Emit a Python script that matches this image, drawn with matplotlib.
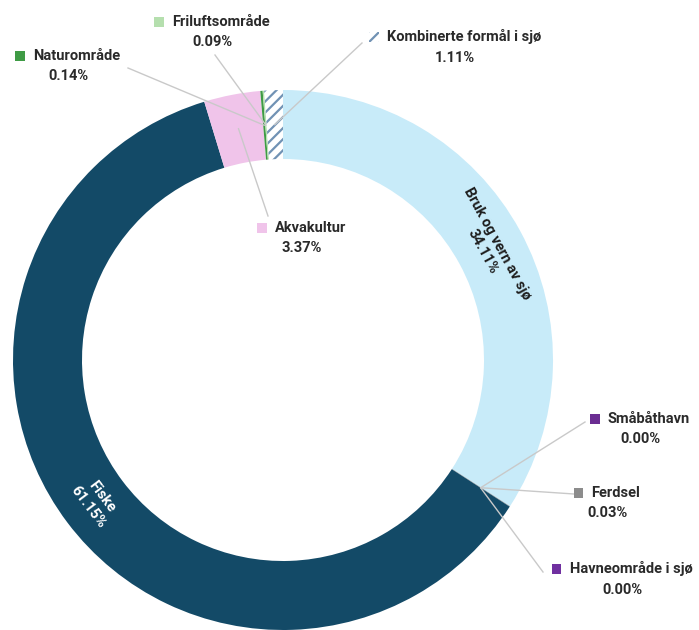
import numpy as np
import matplotlib.pyplot as plt
from matplotlib.patches import Rectangle
from matplotlib.offsetbox import TextArea, DrawingArea, HPacker, VPacker, AnnotationBbox

plt.rcParams['font.family'] = ['Roboto', 'DejaVu Sans']
plt.rcParams['hatch.linewidth'] = 1.6

# data, clockwise from 12 o'clock
categories = ['Bruk og vern av sjø', 'Småbåthavn', 'Ferdsel', 'Havneområde i sjø',
              'Fiske', 'Akvakultur', 'Naturområde', 'Friluftsområde',
              'Kombinerte formål i sjø']
shares = [34.11, 0.00, 0.03, 0.00, 61.15, 3.37, 0.14, 0.09, 1.11]
colors = ['#c8ebf9', '#6b2d92', '#8c8c8c', '#7030a0', '#134a67',
          '#f0c4ea', '#3f9b45', '#b5dfae', 'white']
hatch_color = '#7192b4'

W, H = 699, 630
fig = plt.figure(figsize=(W / 100, H / 100), dpi=100)
ax = fig.add_axes([0, 0, 1, 1])

cx, cy = 283, H - 360
R, ring = 270, 69

wedges, _ = ax.pie(shares, colors=colors, startangle=90, counterclock=False,
                   radius=R, center=(cx, cy),
                   wedgeprops=dict(width=ring, linewidth=0))
wedges[8].set_edgecolor(hatch_color)
wedges[8].set_hatch('///')

def mid_point(w, r):
    a = np.deg2rad((w.theta1 + w.theta2) / 2)
    return cx + r * np.cos(a), cy + r * np.sin(a), np.rad2deg(a)

# labels inside the ring
for i, tc in [(0, '#1e1e1e'), (4, 'white')]:
    x, y, a = mid_point(wedges[i], R - ring / 2)
    rot = (a - 90 + 90) % 180 - 90
    ax.text(x, y, f'{categories[i]}\n{shares[i]:.2f}%', rotation=rot,
            rotation_mode='anchor', ha='center', va='center', ma='center',
            fontsize=10.5, fontweight='bold', color=tc, linespacing=1.2)

# outside labels: block centre and leader end (image pixel coords)
outside = {
    'Naturområde': ((68, 66), (128, 68)),
    'Friluftsområde': ((212, 32), (215, 55)),
    'Kombinerte formål i sjø': ((455, 47), (362, 43)),
    'Akvakultur': ((302, 238), (268, 216)),
    'Småbåthavn': ((640, 429), (585, 422)),
    'Ferdsel': ((607, 503), (574, 494)),
    'Havneområde i sjø': ((622, 579), (543, 572)),
}

for name, (centre, end) in outside.items():
    i = categories.index(name)
    x, y, _ = mid_point(wedges[i], R - ring / 2)
    ax.plot([x, end[0]], [y, H - end[1]], color='#c9c9c9', lw=1, zorder=5)

    da = DrawingArea(8, 8, 0, 0)
    if name == 'Kombinerte formål i sjø':
        sq = Rectangle((0, 0), 7, 7, facecolor='white', edgecolor=hatch_color,
                       hatch='///', linewidth=0)
    else:
        sq = Rectangle((0, 0), 7, 7, facecolor=colors[i], linewidth=0)
    da.add_artist(sq)
    style = dict(fontsize=10.5, fontweight='bold', color='#2a2a2a')
    top = HPacker(children=[da, TextArea(name, textprops=style)],
                  align='center', pad=0, sep=5)
    block = VPacker(children=[top, TextArea(f'{shares[i]:.2f}%', textprops=style)],
                    align='center', pad=0, sep=5)
    ab = AnnotationBbox(block, (centre[0], H - centre[1]), frameon=False,
                        box_alignment=(0.5, 0.5), zorder=6)
    ax.add_artist(ab)

ax.set_xlim(0, W)
ax.set_ylim(0, H)
ax.set_aspect('equal')
ax.axis('off')

fig.savefig('out.png', dpi=100, facecolor='white')
